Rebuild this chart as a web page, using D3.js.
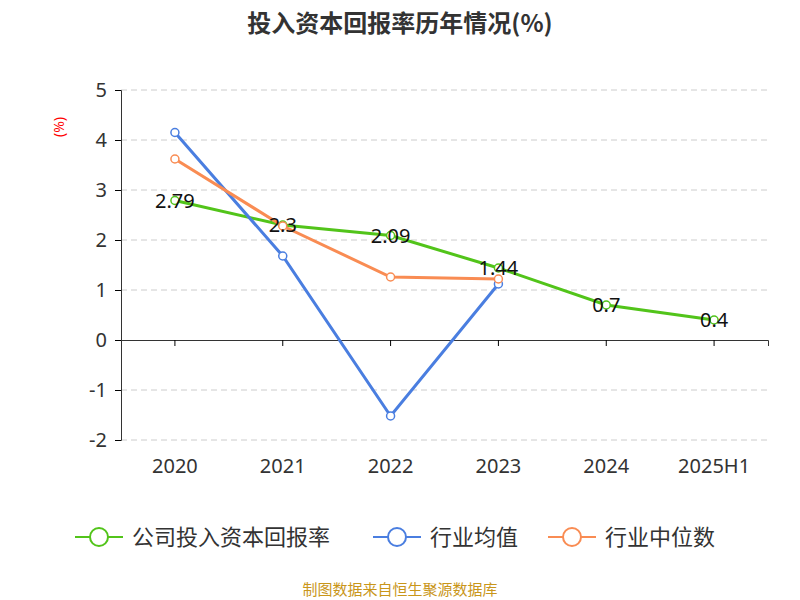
<!DOCTYPE html>
<html><head><meta charset="utf-8">
<script src="https://cdn.jsdelivr.net/npm/d3@7"></script>
<style>body{margin:0;background:#fff}text{font-family:"Noto Sans","Noto Sans CJK SC",sans-serif}</style>
</head><body><svg id="c" width="800" height="600"></svg>
<script>
const categories = ["2020", "2021", "2022", "2023", "2024", "2025H1"];
const companyVals = [2.79, 2.3, 2.09, 1.44, 0.7, 0.4];
const meanVals = [4.15, 1.68, -1.52, 1.12];
const medianVals = [3.62, 2.28, 1.26, 1.22];
const yTicks = [5, 4, 3, 2, 1, 0, -1, -2];
const seriesNames = ["公司投入资本回报率", "行业均值", "行业中位数"];
const colors = ["#52c41a", "#4a7ee0", "#f98c53"];

const svg = d3.select("#c");
const x = d3.scaleBand().domain(categories).range([121, 768]);
const y = d3.scaleLinear().domain([-2, 5]).range([440, 90]);

svg.append("text").attr("x", 400).attr("y", 32).attr("text-anchor", "middle")
  .attr("font-size", 24).attr("font-weight", "bold").attr("fill", "#333")
  .style("font-family", "'Noto Sans CJK SC'").text("投入资本回报率历年情况(%)");

// grid
svg.selectAll(".grid").data(yTicks.filter(d => d !== 0)).join("line")
  .attr("x1", 121).attr("x2", 768).attr("y1", d => y(d)).attr("y2", d => y(d))
  .attr("stroke", "#ccc").attr("stroke-dasharray", "6,4");

// y axis
const ya = svg.append("g").attr("transform", "translate(121,0)")
  .call(d3.axisLeft(y).tickValues(yTicks).tickSize(6).tickFormat(d => String(d)));
ya.select(".domain").attr("stroke", "#333");
ya.selectAll("text").attr("font-size", 20).attr("fill", "#333").attr("x", -14);

// x axis at 0
const xa = svg.append("g").attr("transform", `translate(0,${y(0)})`)
  .call(d3.axisBottom(x).tickSize(6).tickFormat(""));
xa.select(".domain").attr("stroke", "#333");
svg.selectAll(".xl").data(categories).join("text")
  .attr("x", d => x(d) + x.bandwidth() / 2).attr("y", 473).attr("text-anchor", "middle")
  .attr("font-size", 20).attr("fill", "#333").text(d => d);

svg.append("text").attr("transform", "translate(64,127) rotate(-90)").attr("text-anchor", "middle")
  .attr("font-size", 14).attr("fill", "red").text("(%)");

const line = d3.line().x((d, i) => x(categories[i]) + x.bandwidth() / 2).y(d => y(d));
[[companyVals, 0], [meanVals, 1], [medianVals, 2]].forEach(([vals, k]) => {
  svg.append("path").datum(vals).attr("d", line).attr("fill", "none")
    .attr("stroke", colors[k]).attr("stroke-width", 3);
  svg.selectAll(null).data(vals).join("circle")
    .attr("cx", (d, i) => x(categories[i]) + x.bandwidth() / 2).attr("cy", d => y(d))
    .attr("r", 4).attr("fill", "#fff").attr("stroke", colors[k]).attr("stroke-width", 1.5);
});
svg.selectAll(".lbl").data(companyVals).join("text")
  .attr("x", (d, i) => x(categories[i]) + x.bandwidth() / 2).attr("y", d => y(d) + 7)
  .attr("text-anchor", "middle").attr("font-size", 20).attr("fill", "#111").text(d => d);

// legend
const lx = [75, 373, 548];
seriesNames.forEach((n, k) => {
  const g = svg.append("g").attr("transform", `translate(${lx[k]},537)`);
  g.append("line").attr("x1", 0).attr("x2", 48).attr("stroke", colors[k]).attr("stroke-width", 2);
  g.append("circle").attr("cx", 24).attr("r", 9).attr("fill", "#fff").attr("stroke", colors[k]).attr("stroke-width", 2);
  g.append("text").attr("x", 57).attr("y", 8).attr("font-size", 22).attr("fill", "#333")
    .style("font-family", "'Noto Sans CJK SC'").text(n);
});

svg.append("text").attr("x", 400).attr("y", 595).attr("text-anchor", "middle")
  .attr("font-size", 15).attr("fill", "#c9961a").style("font-family", "'Noto Sans CJK SC'")
  .text("制图数据来自恒生聚源数据库");
</script></body></html>
